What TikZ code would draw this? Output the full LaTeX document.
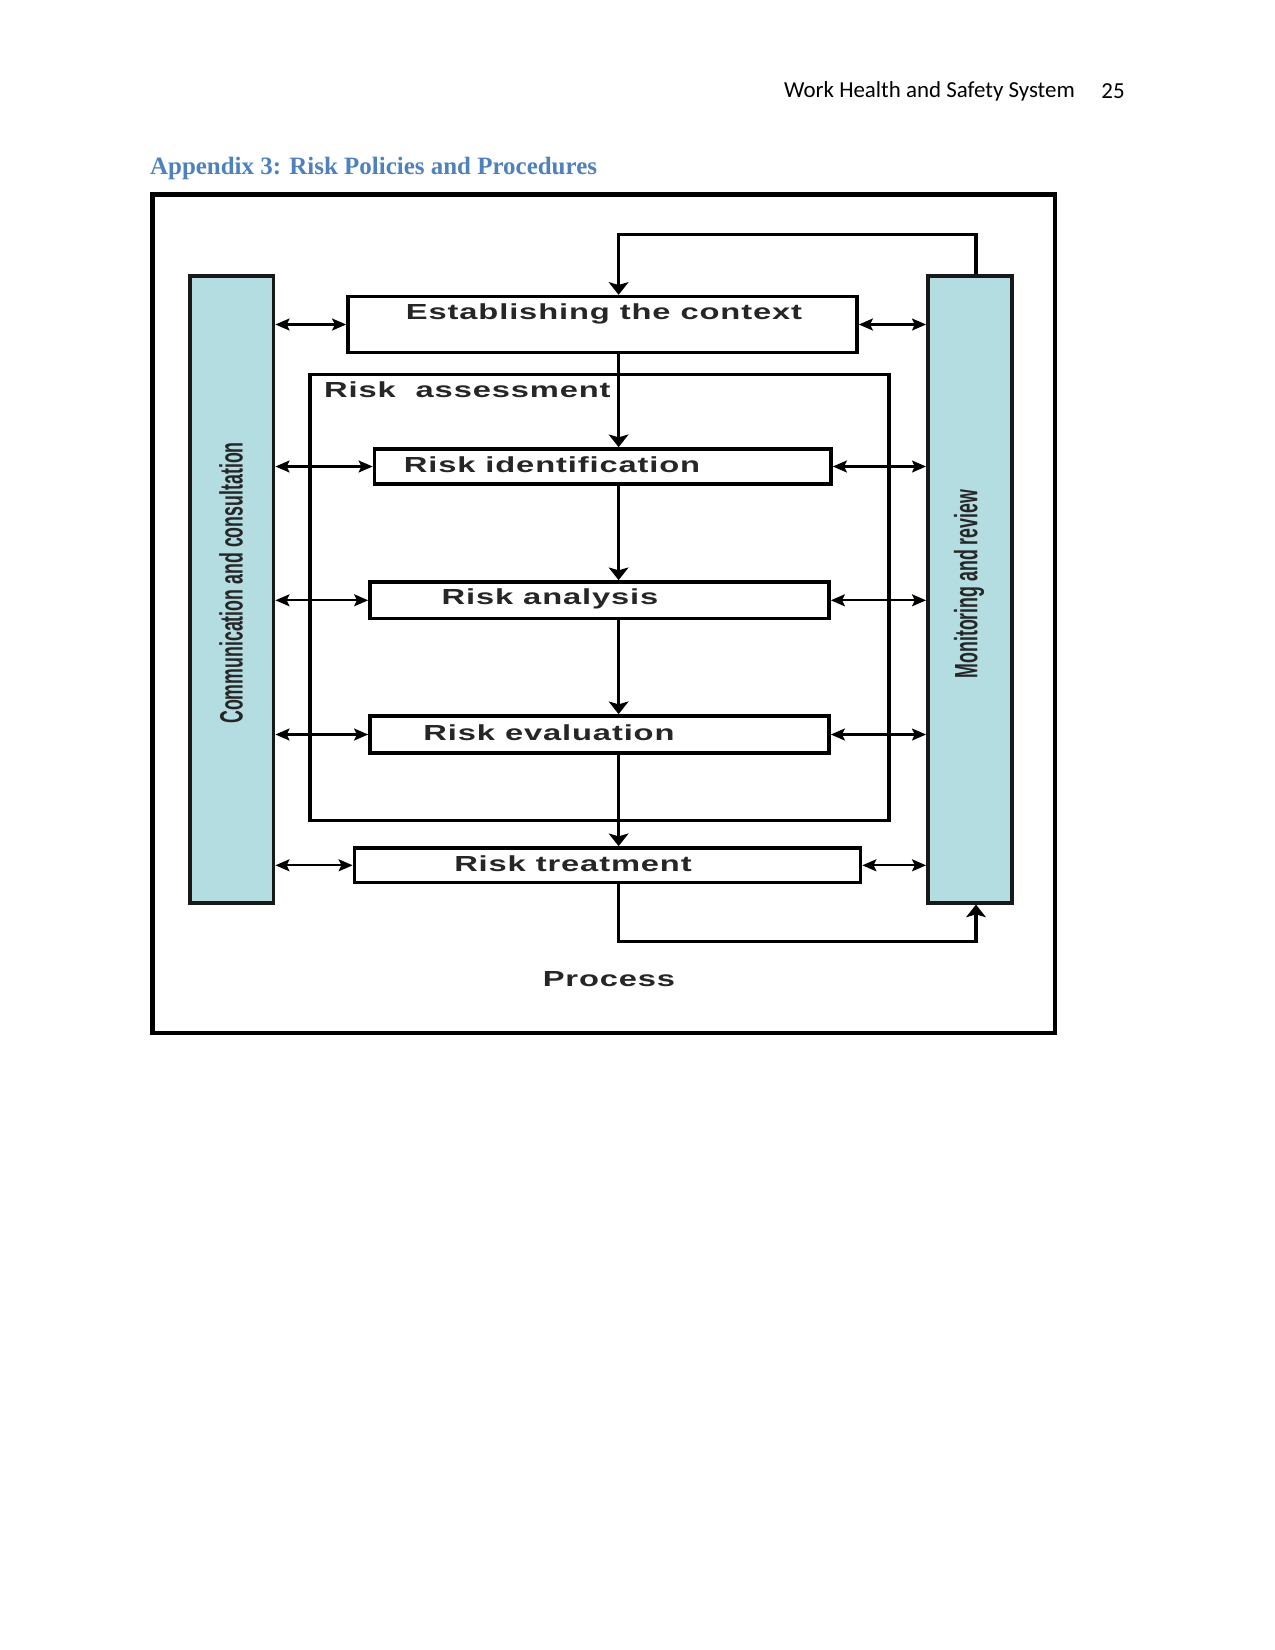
\documentclass[tikz,border=0pt]{standalone}
\usepackage{fontspec}
\usetikzlibrary{arrows.meta}
\newfontfamily\boxfont{Liberation Sans Bold}[FakeStretch=1.5,LetterSpace=4]
\newfontfamily\barfont{Liberation Sans Bold}[FakeStretch=0.55]
\newfontfamily\headfont{Carlito}
\newfontfamily\titlefont{Liberation Serif Bold}
\definecolor{barblue}{RGB}{180,221,226}
\definecolor{headblue}{RGB}{79,129,189}
\begin{document}
\begin{tikzpicture}[x=0.05cm,y=-0.05cm,
  box/.style={draw=black, line width=5.2pt, fill=white, inner sep=0pt},
  bar/.style={draw=black!90, line width=5.5pt, fill=barblue, inner sep=0pt},
  lbl/.style={font=\boxfont\fontsize{31}{36}\selectfont, text=black!85, inner sep=0pt},
  vlbl/.style={font=\barfont\fontsize{46}{50}\selectfont, text=black!85, inner sep=0pt, rotate=90},
  flow/.style={line width=5.2pt, -{Stealth[length=18pt,width=28pt,inset=4pt]}},
  dbl/.style={line width=3pt, {Stealth[length=20pt,width=17pt,inset=4pt]}-{Stealth[length=20pt,width=17pt,inset=4pt]}},
]
\fill[white] (0,0) rectangle (1275,1650);
\useasboundingbox (0,0) rectangle (1275,1650);

% header and title
\node[font=\headfont\fontsize{32.6}{38}\selectfont, anchor=east, inner sep=0pt] (hdr) at (1075,91) {Work Health and Safety System};
\node[font=\headfont\fontsize{32.6}{38}\selectfont, inner sep=0pt] (pg) at (1113,91) {25};
\node[font=\titlefont\fontsize{35.5}{40}\selectfont, text=headblue, anchor=west, inner sep=0pt] (ttl) at (150,168) {Appendix 3: Risk Policies and Procedures};

% outer frame
\node[draw=black, line width=7pt, minimum width=902.5*0.05cm, minimum height=838.4*0.05cm, inner sep=0pt] (frame) at (603.75,613.8) {};

% side bars
\node[bar, minimum width=83.5*0.05cm, minimum height=627*0.05cm] (lbar) at (231.75,589.1) {};
\node[bar, minimum width=84*0.05cm, minimum height=627*0.05cm] (rbar) at (970,589.1) {};
\node[vlbl] (ltxt) at (231,583) {Communication and consultation};
\node[vlbl] (rtxt) at (969,584) {Monitoring and review};

% risk assessment box
\node[box, fill=none, minimum width=579*0.05cm, minimum height=446*0.05cm] (ra) at (599.5,597.5) {};
\node[lbl, anchor=west] (ratxt) at (324,390) {Risk\ \ assessment};

% process boxes
\node[box, minimum width=509*0.05cm, minimum height=55.7*0.05cm] (est) at (602.5,324.5) {};
\node[box, minimum width=456.5*0.05cm, minimum height=35*0.05cm] (rid) at (602.75,466.5) {};
\node[box, minimum width=459*0.05cm, minimum height=36.6*0.05cm] (ran) at (599.5,600.3) {};
\node[box, minimum width=459*0.05cm, minimum height=37*0.05cm] (rev) at (599.5,734.5) {};
\node[box, minimum width=506*0.05cm, minimum height=34.6*0.05cm] (rtr) at (607.5,865.3) {};

\node[lbl] (esttxt) at (604,314) {Establishing the context};
\node[lbl] (ridtxt) at (552,465) {Risk identification};
\node[lbl] (rantxt) at (550,599) {Risk analysis};
\node[lbl] (revtxt) at (549,733) {Risk evaluation};
\node[lbl] (rtrtxt) at (573,864) {Risk treatment};
\node[lbl] (proc) at (609,979) {Process};

% helper coordinates
\coordinate (xl) at (618.6,0);
\coordinate (xr) at (976,0);
\coordinate (top) at (0,234.6);
\coordinate (bot) at (0,941.5);

% main flow
\draw[flow] (est.south -| xl) -- (rid.north -| xl);
\draw[flow] (rid.south -| xl) -- (ran.north -| xl);
\draw[flow] (ran.south -| xl) -- (rev.north -| xl);
\draw[flow] (rev.south -| xl) -- (rtr.north -| xl);

% loops
\draw[flow] (rbar.north -| xr) -- (top -| xr) -| (est.north -| xl);
\draw[flow] (rtr.south -| xl) -- (bot -| xl) -| (rbar.south -| xr);

% two-way links
\foreach \b in {est,rid,ran,rev,rtr}{
  \draw[dbl] (lbar.east |- \b.west) -- (\b.west);
  \draw[dbl] (\b.east) -- (rbar.west |- \b.east);
}
\end{tikzpicture}
\end{document}
